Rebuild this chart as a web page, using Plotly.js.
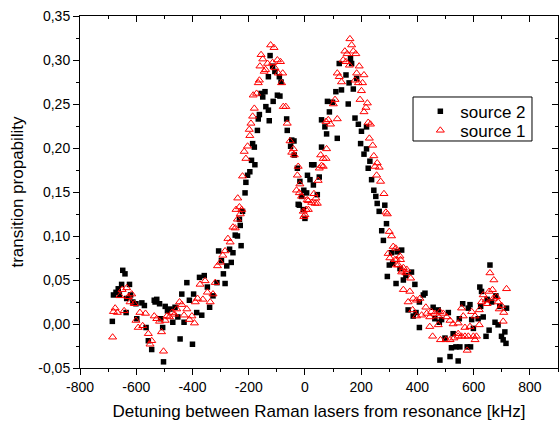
<!DOCTYPE html>
<html>
<head>
<meta charset="utf-8">
<script src="https://cdn.plot.ly/plotly-3.0.1.min.js"></script>
<style>html,body{margin:0;padding:0;background:#fff;}#chart{width:559px;height:424px;}</style>
</head>
<body>
<div id="chart"></div>
<script>
// source 2 (black squares): detuning [kHz]
const src2X = [-685,-681,-672,-664,-660,-652,-648,-640,-636,-634,-624,-620,-612,-601,-598,-580,-571,-565,-557,-545,-536,-533,-527,-517,-513,-506,-503,-497,-489,-480,-470,-462,-452,-444,-438,-430,-420,-411,-400,-396,-385,-375,-367,-358,-347,-339,-327,-313,-307,-297,-290,-284,-278,-268,-262,-256,-248,-240,-233,-230,-227,
-222,-213,-210,-204,-196,-190,-186,-180,-178,-169,-166,-162,-156,-150,-142,-139,-130,-130,-127,-124,-115,-113,-107,-98,-91,-89,-85,-65,-63,-51,-47,-39,-38,-27,-24,-20,-18,-12,-6,-4,0,6,9,18,
24,30,32,44,51,59,59,71,77,80,87,98,110,115,122,130,146,154,157,162,166,172,178,184,190,198,201,210,219,219,225,231,237,245,252,257,264,273,279,284,290,293,300,308,312,324,328,338,344,350,359,367,379,385,391,395,407,407,421,427,
456,462,474,478,480,486,498,510,516,521,527,537,545,549,551,561,577,581,587,589,593,599,616,622,625,628,634,644,648,655,658,664,676,679,687,693,699,705,711,715,717];
const src2Y = [0.003,0.033,0.036,0.040,0.033,0.045,0.061,0.057,0.013,0.029,0.045,0.033,0.025,0.023,0.006,0.024,0.021,-0.004,-0.019,-0.029,0.027,0.025,0.028,0.023,0.006,-0.004,-0.043,0.020,0.015,0.017,0.002,0.019,0.008,-0.017,0.034,0.002,0.047,0.027,-0.023,0.034,0.013,0.053,0.010,0.055,0.042,0.019,0.032,0.047,0.083,0.072,0.057,0.046,0.066,0.085,0.070,0.081,0.101,0.100,0.119,0.112,0.089,
0.128,0.149,0.161,0.169,0.173,0.186,0.205,0.201,0.181,0.220,0.233,0.238,0.262,0.258,0.264,0.247,0.243,0.281,0.231,0.305,0.293,0.253,0.287,0.260,0.281,0.259,0.275,0.233,0.220,0.202,0.209,0.208,0.192,0.177,0.136,0.135,0.162,0.145,0.130,0.152,0.120,0.149,0.169,0.164,
0.181,0.158,0.181,0.147,0.167,0.201,0.232,0.224,0.216,0.253,0.241,0.252,0.264,0.211,0.296,0.266,0.283,0.250,0.274,0.302,0.296,0.267,0.234,0.279,0.227,0.205,0.219,0.193,0.224,0.199,0.177,0.185,0.164,0.152,0.145,0.137,0.128,0.106,0.095,0.135,0.114,0.054,0.067,0.081,0.069,0.046,0.082,0.063,0.084,0.050,0.055,0.016,0.059,0.009,0.045,0.013,0.025,-0.004,0.033,0.035,
0.019,0.006,0.016,0.002,-0.041,0.005,-0.016,0.013,-0.037,-0.027,-0.011,-0.026,-0.042,0.006,-0.026,0.023,-0.026,0.018,0.022,-0.026,0.005,-0.005,0.006,0.042,0.020,0.037,0.008,-0.014,0.028,-0.007,0.067,0.025,0.002,0.032,-0.001,0.020,-0.014,-0.018,-0.009,-0.022,0.018];

// source 1 (red open triangles)
const src1X = [-684,-681,-675,-667,-658,-650,-643,-634,-628,-622,-616,-607,-601,-593,-587,-577,-567,-557,-551,-545,-536,-527,-517,-510,-503,-497,-491,-482,-473,-464,-456,-446,-438,-430,-420,-411,-402,-393,-390,-382,-373,-363,-355,-347,-337,-327,-319,-311,-301,-292,-284,-274,-266,-256,-248,-245,-240,-239,-233,-230,
-225,-222,-216,-210,-204,-198,-196,-192,-186,-184,-180,-172,-166,-162,-160,-156,-150,-145,-140,-133,-122,-115,-110,-107,-98,-95,-87,-83,-79,-77,-68,-63,-53,-47,-41,-38,-30,-27,-24,-20,-18,-12,-6,-4,0,4,8,12,12,
24,32,36,39,44,47,51,56,59,65,65,75,75,77,83,91,101,107,115,115,122,130,136,142,146,150,158,160,166,172,178,181,184,190,193,196,201,205,210,210,217,222,225,229,233,241,245,249,255,257,264,269,281,288,293,296,300,302,308,314,320,323,326,326,332,338,340,344,347,350,350,359,362,367,373,376,383,385,397,397,409,415,
430,433,444,444,450,454,462,474,474,480,482,492,501,504,516,516,527,530,545,545,545,557,557,563,569,569,577,581,587,593,599,605,605,610,620,620,628,634,644,648,655,658,667,670,672,681,687,691,699,705,707,717];
const src1Y = [-0.015,0.014,0.018,0.013,0.032,0.039,0.015,0.041,0.031,0.025,0.034,0.023,0.004,-0.004,0.013,-0.002,0.012,-0.011,-0.023,-0.019,0.009,0.006,0.003,-0.009,-0.031,0.004,0.009,0.008,0.013,0.011,0.017,0.025,0.022,0.010,0.017,0.005,0.009,0.001,0.025,0.029,0.045,0.028,0.049,0.036,0.025,0.034,0.047,0.066,0.070,0.078,0.083,0.097,0.093,0.110,0.109,0.130,0.119,0.143,0.133,0.125,
0.130,0.168,0.196,0.188,0.202,0.221,0.214,0.228,0.236,0.260,0.245,0.262,0.274,0.277,0.293,0.306,0.301,0.287,0.289,0.296,0.317,0.297,0.314,0.291,0.300,0.285,0.298,0.274,0.285,0.247,0.247,0.228,0.208,0.195,0.199,0.192,0.152,0.169,0.179,0.149,0.159,0.145,0.128,0.122,0.124,0.130,0.141,0.130,0.140,
0.138,0.148,0.137,0.143,0.137,0.163,0.177,0.192,0.180,0.188,0.179,0.188,0.230,0.199,0.232,0.227,0.250,0.255,0.285,0.233,0.281,0.275,0.300,0.310,0.298,0.307,0.294,0.324,0.317,0.310,0.277,0.307,0.285,0.274,0.293,0.255,0.265,0.274,0.283,0.241,0.246,0.251,0.229,0.211,0.227,0.203,0.191,0.179,0.169,0.183,0.178,0.162,0.148,0.127,0.125,0.080,0.105,0.075,0.100,0.088,0.073,0.086,0.073,0.067,0.067,0.077,0.073,0.059,0.061,0.064,0.039,0.058,0.062,0.025,0.037,0.052,0.016,0.029,0.027,0.009,0.029,0.010,
0.019,0.012,0.008,-0.003,0.014,-0.014,0.012,0.009,-0.001,0.014,-0.018,0.012,-0.018,0.008,0.004,-0.018,0.000,-0.016,-0.014,-0.011,0.001,-0.014,0.018,0.009,-0.014,-0.004,-0.030,-0.014,-0.003,0.014,-0.014,0.009,-0.018,-0.014,0.016,-0.001,0.025,0.033,0.027,0.023,0.037,0.058,0.039,0.029,0.050,0.031,0.025,0.017,0.021,0.003,0.013,0.040];

const xTickVals = [-800,-600,-400,-200,0,200,400,600,800];
const xTickText = ['-800','-600','-400','-200','0','200','400','600','800'];
const yTickVals = [-0.05,0,0.05,0.10,0.15,0.20,0.25,0.30,0.35];
const yTickText = ['-0,05','0,00','0,05','0,10','0,15','0,20','0,25','0,30','0,35'];
const seriesNames = ['source 2','source 1'];

const FONT = 'Liberation Sans, Arial, sans-serif';
const XR = [-800, 900], YR = [-0.05, 0.35];

const traces = [
  {x: src2X, y: src2Y, type:'scatter', mode:'markers', name: seriesNames[0], legend:'legend',
   marker:{symbol:'square', size:5.5, color:'#000000', line:{width:0}}},
  {x: src1X, y: src1Y, type:'scatter', mode:'markers', name: seriesNames[1], legend:'legend2',
   marker:{symbol:'triangle-up-open', size:7, color:'#ff0000', line:{width:1, color:'#ff0000'}}},
  {x: [], y: [], xaxis:'x2', yaxis:'y2', type:'scatter', mode:'markers', showlegend:false, hoverinfo:'skip'}
];

const baseAxis = {showgrid:false, zeroline:false, showline:true, linecolor:'#000', linewidth:1,
  tickcolor:'#000', tickwidth:1, automargin:false};

const legendBase = {xanchor:'left', yanchor:'middle', bgcolor:'rgba(0,0,0,0)', borderwidth:0,
  font:{family:FONT, size:17, color:'#000'}, itemwidth:30};

const layout = {
  width:559, height:424,
  margin:{l:80, r:1, t:16, b:56, pad:0},
  paper_bgcolor:'#fff', plot_bgcolor:'#fff',
  font:{family:FONT, color:'#000', size:14},
  showlegend:true,
  legend: Object.assign({}, legendBase, {x:0.712, y:0.728}),
  legend2: Object.assign({}, legendBase, {x:0.712, y:0.674}),
  shapes:[{type:'rect', xref:'paper', yref:'paper', x0:0.6967, x1:0.9456, y0:0.6449, y1:0.7699,
    line:{color:'#000', width:1}, fillcolor:'#fff', layer:'above'}],
  xaxis: Object.assign({}, baseAxis, {range:XR, tickmode:'array', tickvals:xTickVals, ticktext:xTickText,
    ticks:'outside', ticklen:6, tickfont:{size:14, family:FONT},
    minor:{tickmode:'linear', tick0:-800, dtick:100, ticks:'outside', ticklen:3, tickcolor:'#000', tickwidth:1},
    title:{text:'Detuning between Raman lasers from resonance [kHz]', font:{size:17, family:FONT}, standoff:11}}),
  yaxis: Object.assign({}, baseAxis, {range:YR, tickmode:'array', tickvals:yTickVals, ticktext:yTickText,
    ticks:'outside', ticklen:6, tickfont:{size:14, family:FONT},
    minor:{tickmode:'linear', tick0:-0.05, dtick:0.025, ticks:'outside', ticklen:3, tickcolor:'#000', tickwidth:1},
    title:{text:'transition propability', font:{size:17, family:FONT}, standoff:10}}),
  xaxis2: Object.assign({}, baseAxis, {range:XR, overlaying:'x', side:'top', anchor:'y2', tickmode:'array', tickvals:xTickVals,
    showticklabels:false, ticks:'inside', ticklen:6,
    minor:{tickmode:'linear', tick0:-800, dtick:100, ticks:'inside', ticklen:3, tickcolor:'#000', tickwidth:1}}),
  yaxis2: Object.assign({}, baseAxis, {range:YR, overlaying:'y', side:'right', anchor:'x2', tickmode:'array', tickvals:yTickVals,
    showticklabels:false, ticks:'inside', ticklen:6,
    minor:{tickmode:'linear', tick0:-0.05, dtick:0.025, ticks:'inside', ticklen:3, tickcolor:'#000', tickwidth:1}})
};

Plotly.newPlot('chart', traces, layout, {displayModeBar:false, staticPlot:true});
</script>
</body>
</html>
